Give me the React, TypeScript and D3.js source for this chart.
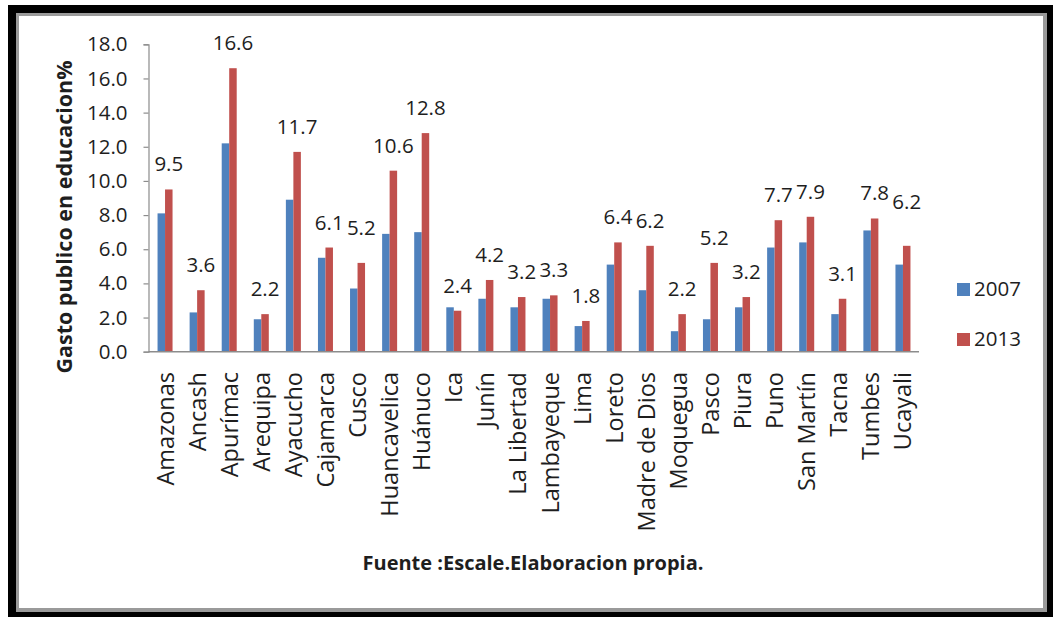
import React, { useEffect, useRef } from "react";
import * as d3 from "d3";

// Public education spending (%) by region, 2007 vs 2013
const regions = [
  "Amazonas", "Ancash", "Apurímac", "Arequipa", "Ayacucho", "Cajamarca",
  "Cusco", "Huancavelica", "Huánuco", "Ica", "Junín", "La Libertad",
  "Lambayeque", "Lima", "Loreto", "Madre de Dios", "Moquegua", "Pasco",
  "Piura", "Puno", "San Martín", "Tacna", "Tumbes", "Ucayali",
];
const gasto2007 = [
  8.1, 2.3, 12.2, 1.9, 8.9, 5.5, 3.7, 6.9, 7.0, 2.6, 3.1, 2.6,
  3.1, 1.5, 5.1, 3.6, 1.2, 1.9, 2.6, 6.1, 6.4, 2.2, 7.1, 5.1,
];
const gasto2013 = [
  9.5, 3.6, 16.6, 2.2, 11.7, 6.1, 5.2, 10.6, 12.8, 2.4, 4.2, 3.2,
  3.3, 1.8, 6.4, 6.2, 2.2, 5.2, 3.2, 7.7, 7.9, 3.1, 7.8, 6.2,
];
const years = ["2007", "2013"];
const yTicks = [0, 2, 4, 6, 8, 10, 12, 14, 16, 18];

const W = 1053;
const H = 617;
const FONT = "'Open Sans', 'DejaVu Sans', sans-serif";
const COLORS: Record<string, string> = { "2007": "#4F81BD", "2013": "#C0504D" };
const AXIS_COLOR = "#8c8c8c";
const BAR_W = 7.5;

// a couple of value labels sit higher than the rest to avoid crowding
const labelLift: Record<string, number> = { Cusco: 10, Ucayali: 19 };

export default function App() {
  const axisRef = useRef<SVGGElement>(null);

  const x = d3.scaleBand<string>().domain(regions).range([149, 919]).padding(0);
  const y = d3.scaleLinear().domain([0, 18]).range([351.7, 44.3]);
  const sub = d3
    .scaleBand<string>()
    .domain(years)
    .range([x.bandwidth() / 2 - BAR_W, x.bandwidth() / 2 + BAR_W]);

  const series: Record<string, number[]> = { "2007": gasto2007, "2013": gasto2013 };

  useEffect(() => {
    if (!axisRef.current) return;
    const g = d3.select(axisRef.current);
    g.selectAll("*").remove();
    const axis = d3
      .axisLeft(y)
      .tickValues(yTicks)
      .tickFormat(d3.format(".1f"))
      .tickSize(5)
      .tickPadding(16);
    g.attr("transform", "translate(148.5,0)").call(axis);
    g.select(".domain").attr("stroke", AXIS_COLOR).attr("stroke-width", 1.2);
    g.selectAll(".tick line").attr("stroke", AXIS_COLOR).attr("stroke-width", 1.2);
    g.selectAll(".tick text")
      .attr("fill", "#1e1e1e")
      .style("font-family", FONT)
      .style("font-size", "20.5px");
  }, []);

  return (
    <svg
      width={W}
      height={H}
      style={{ position: "absolute", left: 0, top: 0, display: "block", background: "#fff" }}
    >
      {/* frame */}
      <rect x={8} y={5} width={1045} height={612} fill="#000" />
      <rect x={16} y={13} width={1031} height={599} fill="#9a9a9a" />
      <rect x={19} y={16} width={1024} height={592} fill="#fff" />

      {/* bars */}
      {years.map((yr) => (
        <g key={yr} fill={COLORS[yr]}>
          {regions.map((r, i) => (
            <rect
              key={r}
              x={(x(r) ?? 0) + (sub(yr) ?? 0)}
              y={y(series[yr][i])}
              width={sub.bandwidth()}
              height={y(0) - y(series[yr][i])}
            />
          ))}
        </g>
      ))}

      {/* value labels on 2013 */}
      <g fill="#1e1e1e" fontFamily={FONT} fontSize={20.5} textAnchor="middle">
        {regions.map((r, i) => (
          <text
            key={r}
            x={(x(r) ?? 0) + (sub("2013") ?? 0) + sub.bandwidth() / 2}
            y={y(gasto2013[i]) - 18 - (labelLift[r] ?? 0)}
          >
            {gasto2013[i].toFixed(1)}
          </text>
        ))}
      </g>

      {/* y axis */}
      <g ref={axisRef} />

      {/* x axis baseline */}
      <line x1={148.5} x2={919} y1={y(0)} y2={y(0)} stroke={AXIS_COLOR} strokeWidth={1.4} />

      {/* category labels */}
      <g fill="#1e1e1e" fontFamily={FONT} fontSize={23.5} textAnchor="end">
        {regions.map((r) => {
          const cx = (x(r) ?? 0) + x.bandwidth() / 2;
          return (
            <text key={r} transform={`translate(${cx + 8.5},372) rotate(-90)`}>
              {r}
            </text>
          );
        })}
      </g>

      {/* y axis title */}
      <text
        transform="translate(71.5,217) rotate(-90)"
        textAnchor="middle"
        fontFamily={FONT}
        fontWeight="bold"
        fontSize={21.5}
        fill="#1e1e1e"
      >
        Gasto publico en educacion%
      </text>

      {/* legend */}
      {years.map((yr, i) => (
        <g key={yr} transform={`translate(957,${283 + i * 50})`}>
          <rect width={13} height={13} fill={COLORS[yr]} />
          <text x={17} y={13} fontFamily={FONT} fontSize={20.5} fill="#1e1e1e">
            {yr}
          </text>
        </g>
      ))}

      {/* source note */}
      <text
        x={533}
        y={570}
        textAnchor="middle"
        fontFamily={FONT}
        fontWeight="bold"
        fontSize={20}
        fill="#1e1e1e"
      >
        Fuente :Escale.Elaboracion propia.
      </text>
    </svg>
  );
}
